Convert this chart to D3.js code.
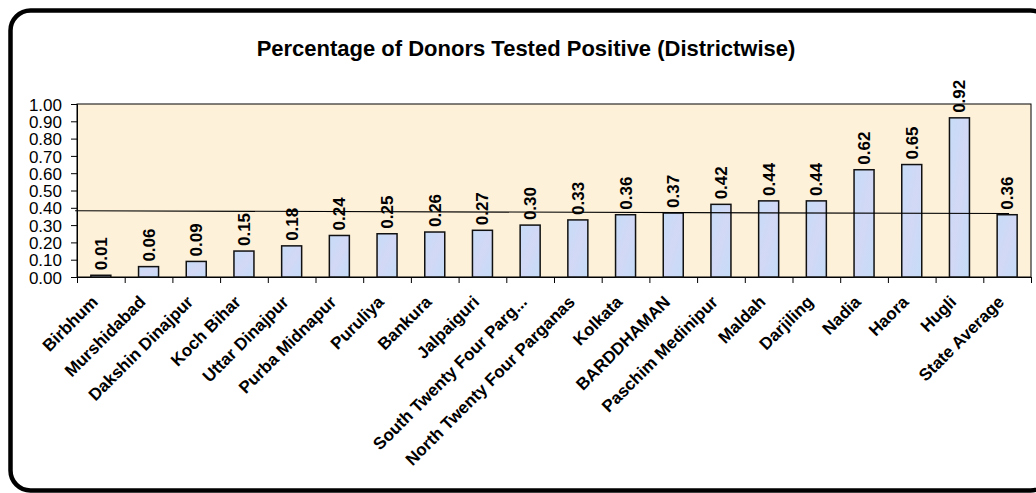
<!DOCTYPE html>
<html>
<head>
<meta charset="utf-8">
<script src="https://cdn.jsdelivr.net/npm/d3@7"></script>
<style>
  body { margin: 0; background: #fff; }
  svg { display: block; font-family: "Liberation Sans", Arial, sans-serif; }
</style>
</head>
<body>
<div id="chart"></div>
<script>
// data
const districts = ["Birbhum", "Murshidabad", "Dakshin Dinajpur", "Koch Bihar", "Uttar Dinajpur",
  "Purba Midnapur", "Puruliya", "Bankura", "Jalpaiguri", "South  Twenty Four Parg...",
  "North Twenty Four Parganas", "Kolkata", "BARDDHAMAN", "Paschim Medinipur", "Maldah",
  "Darjiling", "Nadia", "Haora", "Hugli", "State Average"];
const positives = [0.01, 0.06, 0.09, 0.15, 0.18, 0.24, 0.25, 0.26, 0.27, 0.30,
  0.33, 0.36, 0.37, 0.42, 0.44, 0.44, 0.62, 0.65, 0.92, 0.36];
const yTicks = [0, 0.1, 0.2, 0.3, 0.4, 0.5, 0.6, 0.7, 0.8, 0.9, 1.0];
// hand drawn average line: [category position, value] at each end
const avgLine = [[-0.04, 0.383], [19.54, 0.367]];

const W = 1036, H = 493;
const plot = { left: 77, top: 104, right: 1031, bottom: 277 };

const svg = d3.select("#chart").append("svg")
  .attr("width", W).attr("height", H);

// bar texture-ish gradient
const defs = svg.append("defs");
const grad = defs.append("linearGradient").attr("id", "barfill")
  .attr("x1", "0%").attr("y1", "0%").attr("x2", "100%").attr("y2", "100%");
grad.append("stop").attr("offset", "0%").attr("stop-color", "#c6dcf7");
grad.append("stop").attr("offset", "50%").attr("stop-color", "#d2d8f6");
grad.append("stop").attr("offset", "100%").attr("stop-color", "#c4dcf7");

// outer frame
svg.append("rect")
  .attr("x", 10.5).attr("y", 10.5)
  .attr("width", 1040).attr("height", 480)
  .attr("rx", 20).attr("ry", 20)
  .attr("fill", "#fff")
  .attr("stroke", "#000").attr("stroke-width", 4.5);

svg.append("text")
  .attr("x", 526).attr("y", 56)
  .attr("text-anchor", "middle")
  .style("font-size", "22px").style("font-weight", "bold")
  .text("Percentage of Donors Tested Positive (Districtwise)");

const x = d3.scaleBand().domain(districts)
  .range([plot.left, plot.right]).paddingInner(0).paddingOuter(0);
const xLin = d3.scaleLinear().domain([0, districts.length])
  .range([plot.left, plot.right]);
const y = d3.scaleLinear().domain([0, 1]).range([plot.bottom, plot.top]);

// plot background
svg.append("rect")
  .attr("x", plot.left).attr("y", plot.top)
  .attr("width", plot.right - plot.left).attr("height", plot.bottom - plot.top)
  .attr("fill", "#fdf1da")
  .attr("stroke", "#000").attr("stroke-width", 1);

// y axis
const yAxis = svg.append("g")
  .attr("transform", "translate(" + plot.left + ",0)")
  .call(d3.axisLeft(y).tickValues(yTicks).tickFormat(d3.format(".2f")).tickSize(6).tickPadding(9));
yAxis.select(".domain").attr("stroke", "#000");
yAxis.selectAll("text").style("font-size", "17px").attr("fill", "#000").attr("dy", "0.36em");

// x axis ticks at category boundaries
const xAxis = svg.append("g")
  .attr("transform", "translate(0," + plot.bottom + ")")
  .call(d3.axisBottom(xLin).tickValues(d3.range(0, 21)).tickSize(6).tickFormat(""));
xAxis.select(".domain").attr("stroke", "#000");

// bars
const bw = 20;
svg.append("g").selectAll("rect")
  .data(positives)
  .join("rect")
  .attr("x", function(d, i) { return x(districts[i]) + x.bandwidth() / 2 - bw / 2; })
  .attr("y", function(d) { return y(d); })
  .attr("width", bw)
  .attr("height", function(d) { return y(0) - y(d); })
  .attr("fill", "url(#barfill)")
  .attr("stroke", "#111").attr("stroke-width", 1.5);

// average line
svg.append("line")
  .attr("x1", xLin(avgLine[0][0])).attr("y1", y(avgLine[0][1]))
  .attr("x2", xLin(avgLine[1][0])).attr("y2", y(avgLine[1][1]))
  .attr("stroke", "#000").attr("stroke-width", 1.2);

// value labels, rotated
svg.append("g").selectAll("text")
  .data(positives)
  .join("text")
  .attr("transform", function(d, i) {
    const cx = x(districts[i]) + x.bandwidth() / 2 + 6;
    return "translate(" + cx + "," + (y(d) - 5) + ") rotate(-90)";
  })
  .style("font-size", "17px").style("font-weight", "bold")
  .text(function(d) { return d.toFixed(2); });

// category labels, rotated 45
svg.append("g").selectAll("text")
  .data(districts)
  .join("text")
  .attr("transform", function(d) {
    const cx = x(d) + x.bandwidth() / 2 - 2;
    return "translate(" + cx + "," + (plot.bottom + 26) + ") rotate(-45)";
  })
  .attr("text-anchor", "end")
  .style("font-size", "17px").style("font-weight", "bold")
  .text(function(d) { return d; });
</script>
</body>
</html>
